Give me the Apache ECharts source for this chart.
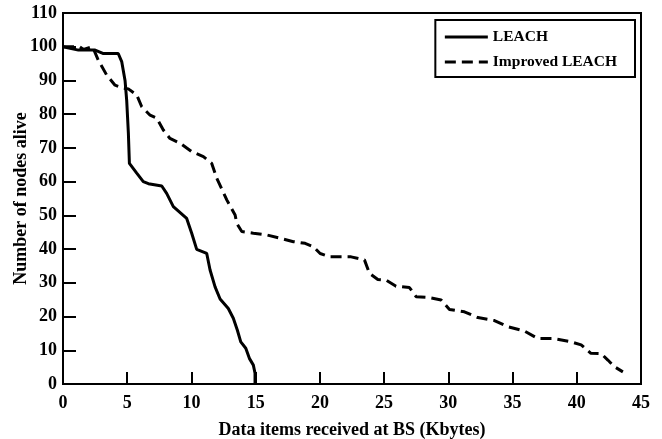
<!DOCTYPE html>
<html>
<head>
<meta charset="utf-8">
<script src="https://cdn.jsdelivr.net/npm/echarts@6/dist/echarts.min.js"></script>
<style>
  html, body { margin: 0; padding: 0; background: #fff; }
  #chart { width: 662px; height: 439px; }
</style>
</head>
<body>
<div id="chart"></div>
<script>
// LEACH: [Kbytes received, nodes alive]
const leachData = [
  [0, 100], [1.2, 99], [2.5, 99], [3.1, 98], [4.3, 98], [4.57, 95.6], [4.83, 90],
  [4.96, 84], [5.09, 74.3], [5.17, 65.4], [5.74, 62.5], [6.25, 60], [6.65, 59.4],
  [7.69, 58.7], [8.07, 56.5], [8.59, 52.6], [9.63, 49.1], [10.02, 44.7], [10.41, 39.9],
  [11.19, 38.7], [11.45, 33.8], [11.84, 28.8], [12.23, 25.2], [12.87, 22.4],
  [13.26, 19.5], [13.57, 16], [13.84, 12.5], [14.23, 10.6], [14.51, 7.6],
  [14.82, 5.6], [14.95, 3.2], [14.95, 0]
];

// Improved LEACH
const improvedData = [
  [0, 100], [1.3, 100], [1.6, 99.2], [2.3, 100], [2.75, 96], [3.4, 91.6], [4.05, 88.6],
  [4.7, 87.7], [5.09, 87.5], [5.74, 85.7], [6.13, 82.2], [6.78, 79.7], [7.3, 78.8],
  [7.81, 75.3], [8.33, 72.8], [9.11, 71.4], [10.02, 68.9], [10.93, 67.4], [11.58, 65.4],
  [11.97, 61], [12.75, 54.6], [13.4, 50.1], [13.53, 47.6], [13.92, 45.2], [14.82, 44.7],
  [15.86, 44.2], [16.9, 43.2], [17.94, 42.2], [18.85, 41.7], [19.5, 40.7], [20.02, 38.7],
  [20.8, 37.7], [22.43, 37.7], [23.47, 36.8], [23.86, 32.8], [24.51, 31], [25.16, 30.8],
  [25.93, 29], [26.97, 28.6], [27.49, 25.9], [28.4, 25.7], [29.44, 24.9], [30.09, 22.1],
  [31.25, 21.4], [32.3, 19.7], [33.59, 18.8], [34.63, 17], [35.92, 15.7], [36.96, 13.5],
  [38.13, 13.5], [39.56, 12.5], [40.34, 11.6], [41.1, 9.1], [41.9, 9], [42.42, 7.1],
  [42.94, 5.1], [43.59, 3.6]
];

const seriesNames = ['LEACH', 'Improved LEACH'];
const xAxisName = 'Data items received at BS (Kbytes)';
const yAxisName = 'Number of nodes alive';

const font = 'Liberation Serif';
const chart = echarts.init(document.getElementById('chart'), null, { renderer: 'canvas' });

const textStyle = { color: '#000', fontFamily: font, fontWeight: 'bold', fontSize: 18 };

chart.setOption({
  animation: false,
  backgroundColor: '#fff',
  grid: {
    left: 63, right: 21, top: 13, bottom: 55,
    containLabel: false,
    outerBoundsMode: 'none',
    show: true, borderColor: '#000', borderWidth: 2, backgroundColor: 'transparent'
  },
  legend: {
    orient: 'vertical',
    right: 27,
    top: 20,
    data: seriesNames,
    backgroundColor: '#fff',
    borderColor: '#000',
    borderWidth: 2,
    borderRadius: 0,
    padding: [9, 18, 7, 8],
    itemWidth: 43,
    itemHeight: 14,
    itemGap: 9,
    itemStyle: { opacity: 0 },
    lineStyle: { width: 3 },
    textStyle: { color: '#000', fontFamily: font, fontWeight: 'bold', fontSize: 15.5 }
  },
  xAxis: {
    type: 'value',
    min: 0, max: 45, interval: 5,
    name: xAxisName,
    nameLocation: 'middle',
    nameGap: 37,
    nameMoveOverlap: false,
    nameTextStyle: textStyle,
    axisLine: { lineStyle: { color: '#000', width: 2 } },
    axisTick: { inside: true, length: 12, lineStyle: { color: '#000', width: 2 } },
    axisLabel: Object.assign({ margin: 10 }, textStyle),
    splitLine: { show: false }
  },
  yAxis: {
    type: 'value',
    min: 0, max: 110, interval: 10,
    name: yAxisName,
    nameLocation: 'middle',
    nameGap: 33,
    nameMoveOverlap: false,
    nameTextStyle: textStyle,
    axisLine: { lineStyle: { color: '#000', width: 2 } },
    axisTick: { inside: true, length: 13, lineStyle: { color: '#000', width: 2 } },
    axisLabel: Object.assign({ margin: 6 }, textStyle),
    splitLine: { show: false }
  },
  series: [
    {
      name: seriesNames[0],
      type: 'line',
      data: leachData,
      symbol: 'none',
      itemStyle: { color: '#000' },
      lineStyle: { color: '#000', width: 3 }
    },
    {
      name: seriesNames[1],
      type: 'line',
      data: improvedData,
      symbol: 'none',
      itemStyle: { color: '#000' },
      lineStyle: { color: '#000', width: 3, type: [11, 6] }
    }
  ]
});
</script>
</body>
</html>
